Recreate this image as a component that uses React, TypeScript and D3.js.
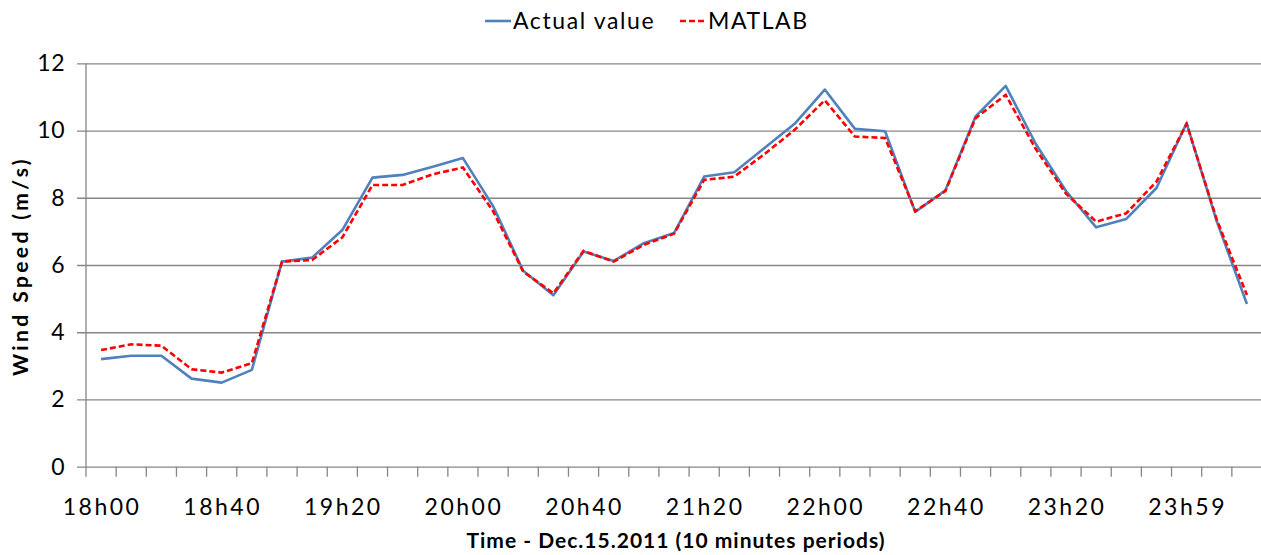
import React, {useRef, useEffect} from 'react';
import * as d3 from 'd3';

const periods = [
    "18h00","18h10","18h20","18h30","18h40","18h50","19h00","19h10","19h20","19h30",
    "19h40","19h50","20h00","20h10","20h20","20h30","20h40","20h50","21h00","21h10",
    "21h20","21h30","21h40","21h50","22h00","22h10","22h20","22h30","22h40","22h50",
    "23h00","23h10","23h20","23h30","23h40","23h50","23h59","00h09","00h19"
];
const actualValue = [
    3.2, 3.3, 3.3, 2.62, 2.5, 2.88, 6.1, 6.22, 7.04, 8.6,
    8.68, 8.92, 9.18, 7.75, 5.83, 5.1, 6.4, 6.12, 6.65, 6.95,
    8.63, 8.76, 9.48, 10.2, 11.22, 10.05, 9.98, 7.58, 8.22, 10.42,
    11.33, 9.6, 8.2, 7.12, 7.37, 8.29, 10.22, 7.3, 4.84
];
const matlab = [
    3.47, 3.64, 3.6, 2.9, 2.8, 3.08, 6.1, 6.15, 6.82, 8.38,
    8.38, 8.7, 8.9, 7.6, 5.8, 5.16, 6.42, 6.1, 6.6, 6.93,
    8.53, 8.63, 9.3, 10.02, 10.9, 9.82, 9.78, 7.6, 8.2, 10.37,
    11.06, 9.45, 8.12, 7.29, 7.54, 8.48, 10.2, 7.35, 5.11
];
const yTicks = [0, 2, 4, 6, 8, 10, 12];
const labelEvery = 4;

const W = 1261, H = 555;
const left = 86, right = 1262, top = 63.3, bottom = 466.7;
const font = "Lato, 'Open Sans', sans-serif";

const App = () => {
    const svgRef = useRef<SVGSVGElement>(null);

    useEffect(() => {
        const svg = d3.select(svgRef.current);
        svg.selectAll("*").remove();

        const x = d3.scaleBand().domain(periods).range([left, right]).padding(0);
        const y = d3.scaleLinear().domain([0, 12]).range([bottom, top]);
        const cx = (i: number) => (x(periods[i]) as number) + x.bandwidth() / 2;

        // gridlines + y axis
        const yAxis = d3.axisLeft(y).tickValues(yTicks).tickSize(right - left + 9);
        const gy = svg.append("g").attr("transform", `translate(${right},0)`).call(yAxis);
        gy.select(".domain").remove();
        gy.selectAll(".tick line").attr("stroke", "#868686").attr("stroke-width", 1.3);
        gy.selectAll(".tick text")
            .attr("x", -(right - left) - 21)
            .attr("font-family", font).attr("font-size", 23).attr("letter-spacing", 0.5)
            .attr("fill", "#000");
        svg.append("line").attr("x1", left).attr("x2", left).attr("y1", top).attr("y2", bottom)
            .attr("stroke", "#868686").attr("stroke-width", 1.3);

        // x axis: tick marks at every category boundary
        const bounds = periods.map(p => x(p) as number).concat([right]);
        svg.append("g").selectAll("line").data(bounds).join("line")
            .attr("x1", d => d).attr("x2", d => d).attr("y1", bottom).attr("y2", bottom + 10)
            .attr("stroke", "#868686").attr("stroke-width", 1.3);

        const xAxis = d3.axisBottom(x)
            .tickValues(periods.filter((p, i) => i % labelEvery === 0))
            .tickSize(0).tickPadding(32);
        const gx = svg.append("g").attr("transform", `translate(0,${bottom})`).call(xAxis);
        gx.select(".domain").remove();
        gx.selectAll(".tick text").attr("font-family", font).attr("font-size", 23)
            .attr("letter-spacing", 2.5).attr("dx", 1).attr("fill", "#000");

        // lines
        const line = d3.line<number>().x((d, i) => cx(i)).y(d => y(d));
        svg.append("path").datum(actualValue).attr("d", line)
            .attr("fill", "none").attr("stroke", "#4F81BD").attr("stroke-width", 2.6)
            .attr("stroke-linejoin", "round");
        svg.append("path").datum(matlab).attr("d", line)
            .attr("fill", "none").attr("stroke", "#FF0000").attr("stroke-width", 2.6)
            .attr("stroke-dasharray", "6,3");

        // axis titles
        svg.append("text").attr("x", 676).attr("y", 548)
            .attr("text-anchor", "middle").attr("font-family", font).attr("font-weight", "bold")
            .attr("font-size", 21).attr("letter-spacing", 1).text("Time - Dec.15.2011 (10 minutes periods)");
        svg.append("text").attr("transform", "translate(28,266) rotate(-90)")
            .attr("text-anchor", "middle").attr("font-family", font).attr("font-weight", "bold")
            .attr("font-size", 21).attr("letter-spacing", 3.4).text("Wind Speed (m/s)");

        // legend
        const legend = [
            {name: "Actual value", color: "#4F81BD", dash: null, x: 485},
            {name: "MATLAB", color: "#FF0000", dash: "6,3", x: 680}
        ];
        const lg = svg.append("g").selectAll("g").data(legend).join("g")
            .attr("transform", d => `translate(${d.x},21)`);
        lg.append("line").attr("x1", 0).attr("x2", 26).attr("y1", 0).attr("y2", 0)
            .attr("stroke", d => d.color).attr("stroke-width", 2.6)
            .attr("stroke-dasharray", d => d.dash);
        lg.append("text").attr("x", 28).attr("y", 8).attr("font-family", font)
            .attr("font-size", 23).attr("letter-spacing", 1.6).attr("fill", "#000").text(d => d.name);
    }, []);

    return (
        <svg ref={svgRef} width={W} height={H}
             style={{position: "absolute", left: 0, top: 0, background: "#fff"}}/>
    );
};

export default App;
